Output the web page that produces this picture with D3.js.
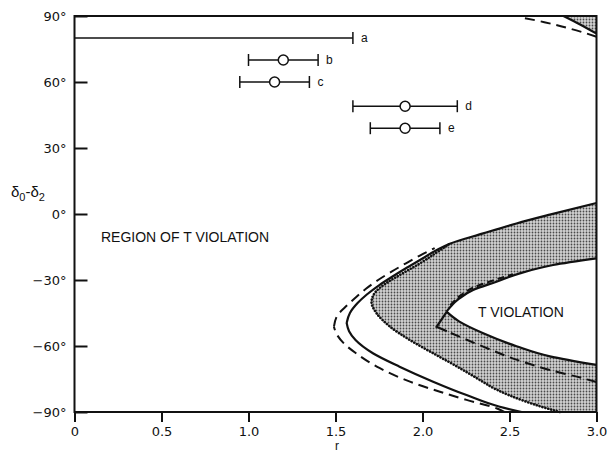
<!DOCTYPE html>
<html><head><meta charset="utf-8">
<script src="https://cdn.jsdelivr.net/npm/d3@7"></script>
<style>
html,body{margin:0;padding:0;background:#fff;}
svg{display:block;}
text{font-family:"Liberation Sans",Arial,sans-serif;fill:#111;}
.tick text{font-family:"DejaVu Sans",sans-serif;font-size:13px;}
</style></head>
<body>
<svg id="c" width="607" height="452"></svg>
<script>
// ---------- data ----------
const xTicks = [0, 0.5, 1.0, 1.5, 2.0, 2.5, 3.0];
const xTickLabels = ["0", "0.5", "1.0", "1.5", "2.0", "2.5", "3.0"];
const yTicks = [90, 60, 30, 0, -30, -60, -90];
const yTickLabels = ["90°", "60°", "30°", "0°", "\u221230°", "\u221260°", "\u221290°"];

// measurements (error bars)
const barNames = ["a", "b", "c", "d", "e"];
const barPhase = [80, 70, 60, 49, 39];
const barLow = [0, 1.0, 0.95, 1.6, 1.7];
const barHigh = [1.6, 1.4, 1.35, 2.2, 2.1];
const barMid = [null, 1.2, 1.15, 1.9, 1.9];

// curves [r, phase], each ordered by increasing phase
const outerDashedLower = [[2.47,-90],[2.425,-88.3],[2.253,-84.5],[2.1,-80.8],[1.928,-76.2],[1.755,-70.1],[1.618,-63.3],[1.548,-58.8],[1.508,-54.8],[1.491,-51.2]];
const outerDashedUpper = [[1.491,-51.2],[1.51,-46.2],[1.552,-42.6],[1.611,-38.3],[1.675,-34],[1.745,-30],[1.822,-26.2],[1.905,-22.4],[1.985,-18.9],[2.07,-15.5]];
const outerSolidLower = [[2.57,-90],[2.444,-87.6],[2.253,-82.3],[2.061,-76.2],[1.868,-69.4],[1.715,-63.3],[1.615,-57.3],[1.578,-53.3],[1.564,-49.5]];
const outerSolidUpper = [[1.564,-49.5],[1.583,-45],[1.627,-40.5],[1.68,-36.6],[1.75,-32.4],[1.83,-28.3],[1.915,-24.2],[2.0,-20.2],[2.08,-16.5],[2.157,-13.5],[2.349,-8.8],[2.54,-4.3],[2.732,-0.3],[3.0,5]];
const upperEdge = [[2.157,-13.5],[2.349,-8.8],[2.54,-4.3],[2.732,-0.3],[3.0,5]];
const dottedEdge = [[2.79,-90],[2.713,-88.3],[2.585,-85],[2.43,-80],[2.32,-75],[2.2,-69.4],[2.061,-63.3],[1.928,-57.3],[1.813,-51.2],[1.736,-45.1],[1.707,-40],[1.728,-35.6],[1.794,-31.3],[1.889,-26.8],[1.985,-22.4],[2.075,-17.8],[2.157,-13.5]];
const innerLower = [[3.0,-68.6],[2.732,-64.7],[2.54,-60.1],[2.349,-54.2],[2.21,-48.8],[2.138,-44.4]];
const innerUpper = [[2.138,-44.4],[2.205,-38.8],[2.291,-34.5],[2.425,-30.8],[2.559,-27],[2.751,-23.2],[3.0,-20.2]];
const innerKink = [[2.14,-44.4],[2.081,-51.3],[2.14,-53.3]];
const innerDashedLow = [[3.0,-76.4],[2.923,-74.7],[2.732,-70.9],[2.54,-66.2],[2.349,-60.3],[2.14,-53.3]];
const innerDashedUp = [[2.16,-41.5],[2.22,-37],[2.3,-33.2],[2.43,-29.6],[2.52,-27.4]];
const cornerDashed = [[3.0,80.6],[2.85,84.2],[2.7,87.2],[2.57,89.3]];
const cornerSolid = [[3.0,82],[2.9,86.4],[2.81,90]];

// ---------- chart ----------
const svg = d3.select("#c");
const x = d3.scaleLinear().domain([0, 3]).range([74.5, 596.5]);
const y = d3.scaleLinear().domain([-90, 90]).range([412, 16]);

const defs = svg.append("defs");
const pat = defs.append("pattern").attr("id","dots").attr("patternUnits","userSpaceOnUse")
  .attr("width",3).attr("height",3);
pat.append("rect").attr("width",3).attr("height",3).attr("fill","#d2d2d2");
pat.append("circle").attr("cx",1.5).attr("cy",1.5).attr("r",0.9).attr("fill","#4a4a4a");

const mono = d3.line().x(d => x(d[0])).y(d => y(d[1])).curve(d3.curveMonotoneY);
const lin = d3.line().x(d => x(d[0])).y(d => y(d[1]));
const join = (...segs) => segs.map((s,i) => i ? s.replace(/^M/,"L") : s).join("") + "Z";
const rev = a => a.slice().reverse();

// shaded band
svg.append("path")
  .attr("d", join(mono(dottedEdge), mono(upperEdge), lin([[3,5],[3,-20.2]]),
                  mono(rev(innerUpper)), mono(rev(innerLower)), lin([[3,-68.6],[3,-90],[2.79,-90]])))
  .attr("fill","url(#dots)").attr("stroke","none");
// corner shading
svg.append("path")
  .attr("d", join(mono(cornerSolid), lin([[2.81,90],[3,90],[3,82]])))
  .attr("fill","url(#dots)").attr("stroke","none");

const g = svg.append("g").attr("fill","none").attr("stroke","#111");
const dash = "10,6";
g.append("path").attr("d", mono(outerDashedLower)).attr("stroke-width",2).attr("stroke-dasharray",dash);
g.append("path").attr("d", mono(outerDashedUpper)).attr("stroke-width",2).attr("stroke-dasharray",dash);
g.append("path").attr("d", mono(outerSolidLower)).attr("stroke-width",2.2);
g.append("path").attr("d", mono(outerSolidUpper)).attr("stroke-width",2.2);
g.append("path").attr("d", mono(dottedEdge)).attr("stroke-width",2.6).attr("stroke-linecap","round").attr("stroke-dasharray","0.1,2.9");
g.append("path").attr("d", mono(innerLower)).attr("stroke-width",2.2);
g.append("path").attr("d", mono(innerUpper)).attr("stroke-width",2.2);
g.append("path").attr("d", lin(innerKink)).attr("stroke-width",2.2);
g.append("path").attr("d", mono(innerDashedLow)).attr("stroke-width",2).attr("stroke-dasharray",dash);
g.append("path").attr("d", mono(innerDashedUp)).attr("stroke-width",2.2).attr("stroke-dasharray","7,4");
g.append("path").attr("d", mono(cornerDashed)).attr("stroke-width",2).attr("stroke-dasharray",dash);
g.append("path").attr("d", mono(cornerSolid)).attr("stroke-width",2.2);

// frame
svg.append("rect").attr("x",x(0)).attr("y",y(90)).attr("width",x(3)-x(0)).attr("height",y(-90)-y(90))
  .attr("fill","none").attr("stroke","#111").attr("stroke-width",2);

// axes
const yAxis = d3.axisLeft(y).tickValues(yTicks).tickSizeInner(-13).tickSizeOuter(0).tickPadding(8)
  .tickFormat((d,i) => yTickLabels[i]);
const ya = svg.append("g").attr("transform",`translate(${x(0)},0)`).call(yAxis);
ya.select(".domain").remove();
ya.selectAll(".tick line").attr("stroke","#111").attr("stroke-width",2);
ya.selectAll(".tick text").attr("fill","#111");

const xAxis = d3.axisBottom(x).tickValues(xTicks).tickSizeInner(10).tickSizeOuter(0).tickPadding(5)
  .tickFormat((d,i) => xTickLabels[i]);
const xa = svg.append("g").attr("transform",`translate(0,${y(-90)})`).call(xAxis);
xa.select(".domain").remove();
xa.selectAll(".tick line").attr("stroke","#111").attr("stroke-width",2);
xa.selectAll(".tick text").attr("fill","#111");

// error bars
const eb = svg.append("g").attr("stroke","#111").attr("stroke-width",1.5).attr("fill","none");
barNames.forEach((n,i) => {
  const yy = y(barPhase[i]);
  eb.append("line").attr("x1",x(barLow[i])).attr("x2",x(barHigh[i])).attr("y1",yy).attr("y2",yy);
  eb.append("line").attr("x1",x(barHigh[i])).attr("x2",x(barHigh[i])).attr("y1",yy-6).attr("y2",yy+6);
  if (barLow[i] > 0) eb.append("line").attr("x1",x(barLow[i])).attr("x2",x(barLow[i])).attr("y1",yy-6).attr("y2",yy+6);
  if (barMid[i] !== null) eb.append("circle").attr("cx",x(barMid[i])).attr("cy",yy).attr("r",5).attr("fill","#fff");
  svg.append("text").attr("x",x(barHigh[i])+8).attr("y",yy+4).attr("font-size",12).text(n);
});

// labels
svg.append("text").attr("x",101).attr("y",242).attr("font-size",14).text("REGION OF T VIOLATION");
svg.append("text").attr("x",478).attr("y",317).attr("font-size",14).text("T VIOLATION");
const yl = svg.append("text").attr("x",11).attr("y",197).attr("font-size",15);
yl.append("tspan").text("\u03b4");
yl.append("tspan").attr("font-size",11).attr("dy",4).text("0");
yl.append("tspan").attr("dy",-4).text("-\u03b4");
yl.append("tspan").attr("font-size",11).attr("dy",4).text("2");
svg.append("text").attr("x",335).attr("y",450).attr("font-size",12).text("r");
</script>
</body></html>
